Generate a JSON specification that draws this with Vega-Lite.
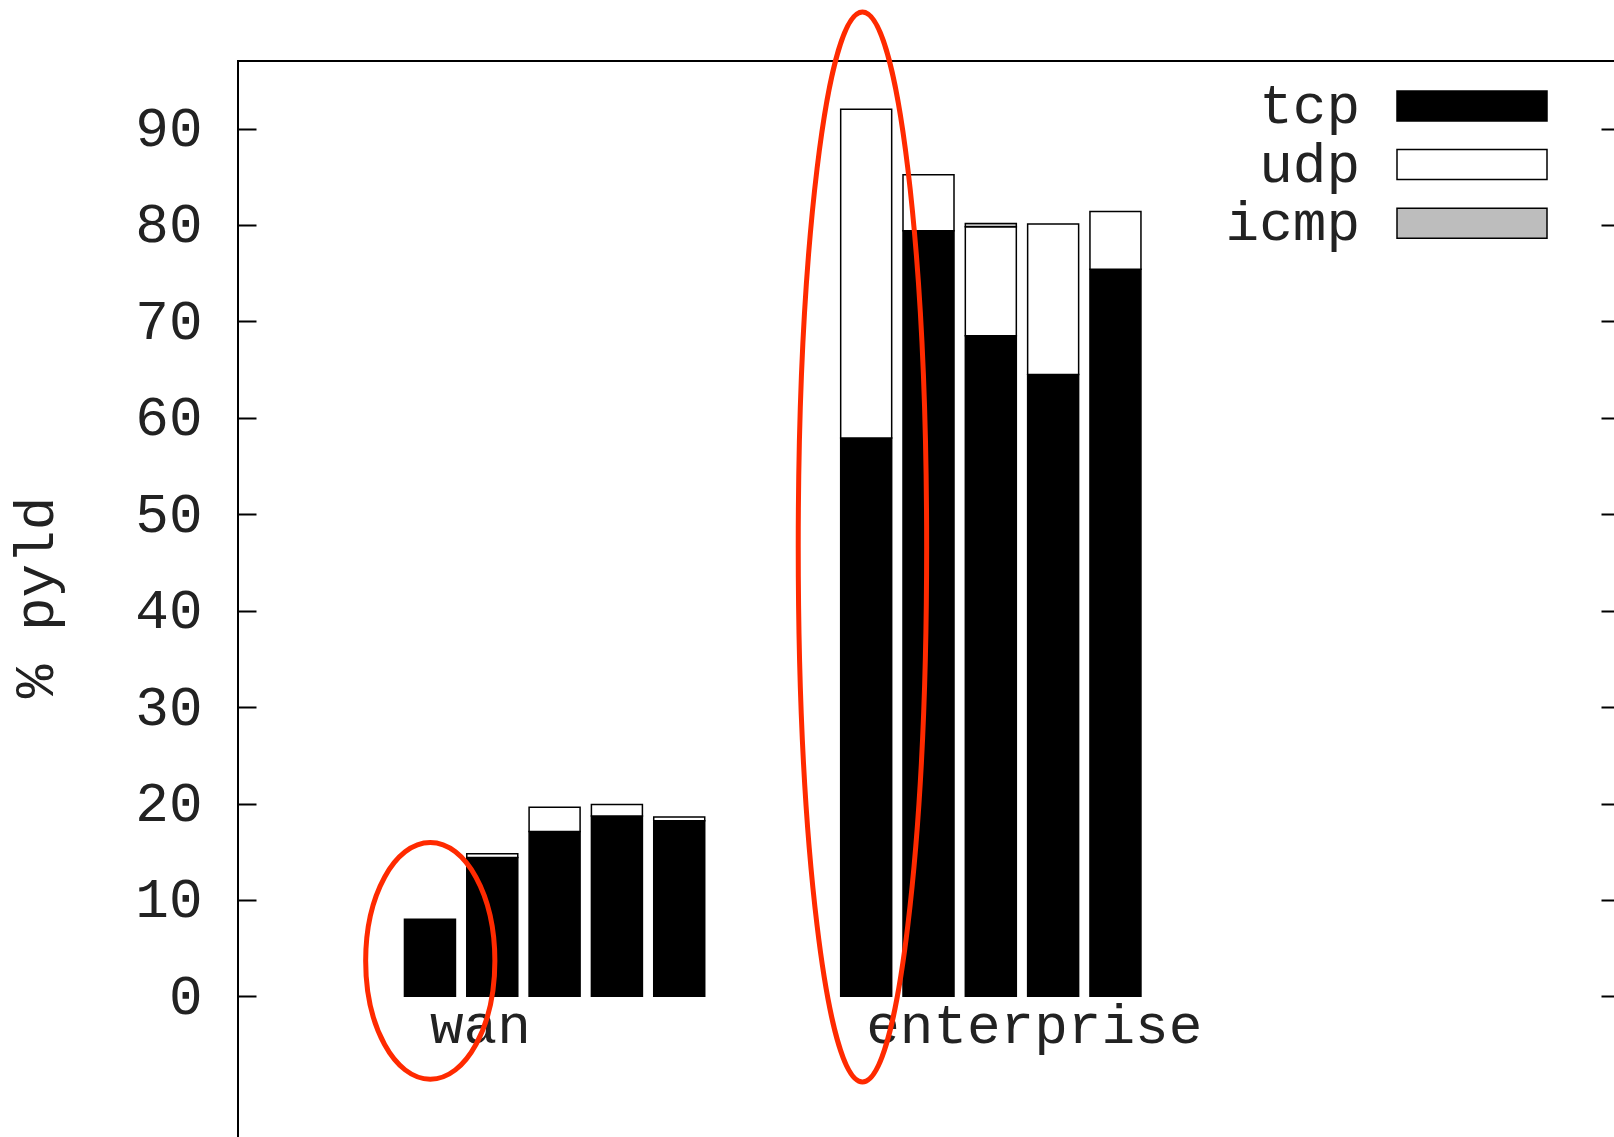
{
  "$schema": "https://vega.github.io/schema/vega-lite/v6.json",
  "autosize": "none",
  "padding": {"left": 238, "top": 61, "right": 0, "bottom": 0},
  "width": 1381,
  "height": 1080,
  "background": "white",
  "config": {
    "view": {"stroke": "black", "strokeWidth": 2},
    "font": "Liberation Mono"
  },
  "datasets": {
    "bars": [
      {"network": "wan", "slot": 0, "proto": "tcp", "pct": 8.0},
      {"network": "wan", "slot": 1, "proto": "tcp", "pct": 14.4},
      {"network": "wan", "slot": 1, "proto": "udp", "pct": 0.4},
      {"network": "wan", "slot": 2, "proto": "tcp", "pct": 17.1},
      {"network": "wan", "slot": 2, "proto": "udp", "pct": 2.5},
      {"network": "wan", "slot": 3, "proto": "tcp", "pct": 18.7},
      {"network": "wan", "slot": 3, "proto": "udp", "pct": 1.2},
      {"network": "wan", "slot": 4, "proto": "tcp", "pct": 18.2},
      {"network": "wan", "slot": 4, "proto": "udp", "pct": 0.4},
      {"network": "enterprise", "slot": 7, "proto": "tcp", "pct": 57.9},
      {"network": "enterprise", "slot": 7, "proto": "udp", "pct": 34.1},
      {"network": "enterprise", "slot": 8, "proto": "tcp", "pct": 79.4},
      {"network": "enterprise", "slot": 8, "proto": "udp", "pct": 5.8},
      {"network": "enterprise", "slot": 9, "proto": "tcp", "pct": 68.5},
      {"network": "enterprise", "slot": 9, "proto": "udp", "pct": 11.3},
      {"network": "enterprise", "slot": 9, "proto": "icmp", "pct": 0.35},
      {"network": "enterprise", "slot": 10, "proto": "tcp", "pct": 64.5},
      {"network": "enterprise", "slot": 10, "proto": "udp", "pct": 15.6},
      {"network": "enterprise", "slot": 11, "proto": "tcp", "pct": 75.4},
      {"network": "enterprise", "slot": 11, "proto": "udp", "pct": 6.0}
    ],
    "groups": [
      {"network": "wan", "slot": 0},
      {"network": "enterprise", "slot": 7}
    ]
  },
  "layer": [
    {
      "data": {"name": "bars"},
      "transform": [
        {"calculate": "indexof(['tcp','udp','icmp'], datum.proto)", "as": "stackorder"}
      ],
      "mark": {"type": "bar", "size": 51, "stroke": "black", "strokeWidth": 1.5},
      "encoding": {
        "x": {"field": "slot", "type": "quantitative", "scale": {"domain": [-3, 19], "nice": false, "zero": false}, "axis": null},
        "y": {
          "field": "pct", "type": "quantitative", "stack": "zero",
          "scale": {"domain": [-15, 97], "nice": false, "zero": false},
          "axis": {
            "orient": "left",
            "values": [0, 10, 20, 30, 40, 50, 60, 70, 80, 90],
            "grid": false,
            "domain": false,
            "tickSize": -18,
            "tickWidth": 2,
            "tickColor": "black",
            "labelPadding": 54,
            "labelFontSize": 56,
            "labelFont": "Liberation Mono",
            "labelColor": "#222222",
            "labelBaseline": "middle",
            "title": "% pyld",
            "titleFont": "Liberation Mono",
            "titleFontSize": 56,
            "titleFontWeight": "normal",
            "titleColor": "#222222",
            "titleAngle": -90,
            "titleAlign": "center",
            "titleBaseline": "alphabetic",
            "titleX": -186,
            "titleY": 536
          }
        },
        "fill": {
          "field": "proto", "type": "nominal",
          "scale": {"domain": ["tcp", "udp", "icmp"], "range": ["#000000", "#ffffff", "#bdbdbd"]},
          "legend": {
            "orient": "none",
            "legendX": 1206,
            "legendY": 17,
            "title": null,
            "padding": 0,
            "symbolType": "M-5,-1H5V1H-5Z",
            "symbolSize": 900,
            "symbolStrokeColor": "black",
            "symbolStrokeWidth": 1.5,
            "symbolOpacity": 1,
            "labelAlign": "right",
            "labelBaseline": "middle",
            "labelOffset": -140,
            "labelFont": "Liberation Mono",
            "labelFontSize": 56,
            "labelColor": "#222222",
            "labelLimit": 500,
            "rowPadding": 2.6
          }
        },
        "order": {"field": "stackorder", "type": "quantitative"}
      }
    },
    {
      "data": {"name": "groups"},
      "mark": {"type": "text", "align": "left", "baseline": "alphabetic", "fontSize": 56, "font": "Liberation Mono", "color": "#222222"},
      "encoding": {
        "x": {"field": "slot", "type": "quantitative", "scale": {"domain": [-3, 19], "nice": false, "zero": false}, "axis": null},
        "y": {
          "datum": -4.8, "type": "quantitative",
          "scale": {"domain": [-15, 97], "nice": false, "zero": false},
          "axis": {
            "orient": "right",
            "values": [0, 10, 20, 30, 40, 50, 60, 70, 80, 90],
            "labels": false,
            "grid": false,
            "domain": false,
            "tickSize": -18,
            "tickWidth": 2,
            "tickColor": "black",
            "title": null
          }
        },
        "text": {"field": "network", "type": "nominal"}
      }
    },
    {
      "data": {"values": [{}]},
      "mark": {"type": "point", "shape": "M-0.546,0A0.546,1,0,1,0,0.546,0A0.546,1,0,1,0,-0.546,0Z", "size": 56000, "filled": false, "stroke": "#ff2a00", "strokeWidth": 5, "opacity": 1},
      "encoding": {
        "x": {"datum": 0.005, "type": "quantitative", "scale": {"domain": [-3, 19], "nice": false, "zero": false}, "axis": null},
        "y": {"datum": 3.68, "type": "quantitative", "scale": {"domain": [-15, 97], "nice": false, "zero": false}, "axis": null}
      }
    },
    {
      "data": {"values": [{}]},
      "mark": {"type": "point", "shape": "M-0.12,0A0.12,1,0,1,0,0.12,0A0.12,1,0,1,0,-0.12,0Z", "size": 1145000, "filled": false, "stroke": "#ff2a00", "strokeWidth": 5, "opacity": 1},
      "encoding": {
        "x": {"datum": 6.94, "type": "quantitative", "scale": {"domain": [-3, 19], "nice": false, "zero": false}, "axis": null},
        "y": {"datum": 46.6, "type": "quantitative", "scale": {"domain": [-15, 97], "nice": false, "zero": false}, "axis": null}
      }
    }
  ],
  "resolve": {"axis": {"y": "independent"}}
}
